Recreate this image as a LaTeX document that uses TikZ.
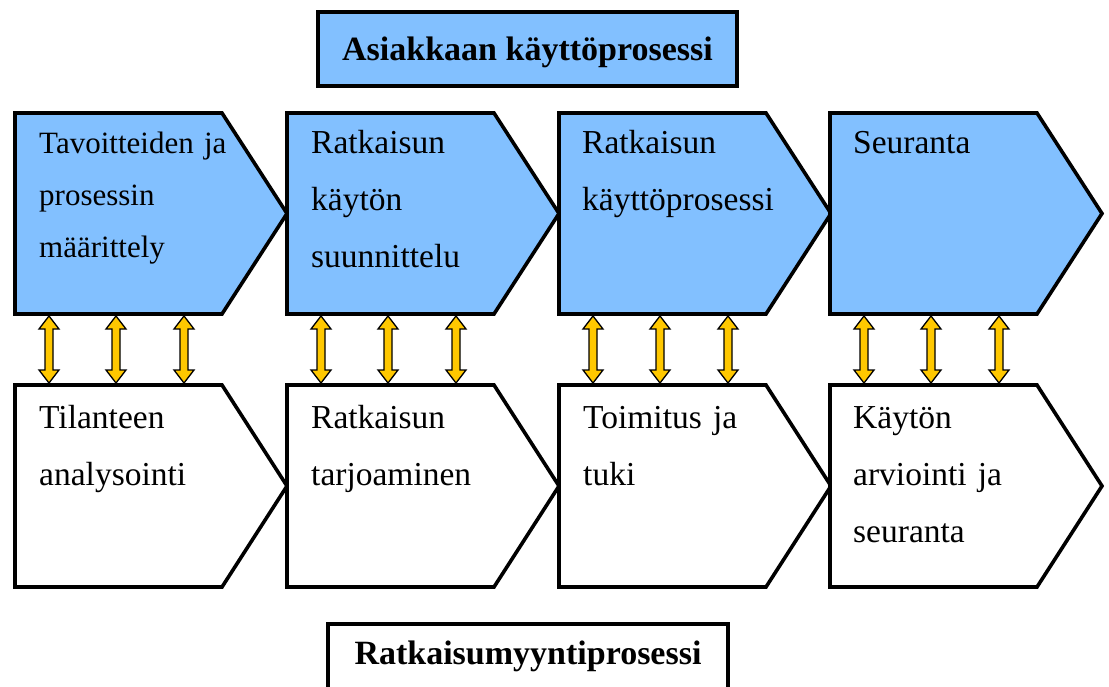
\documentclass[tikz,border=0pt]{standalone}
\usepackage{fontspec}
\setmainfont{Liberation Serif}
\usetikzlibrary{calc}
\definecolor{chevblue}{RGB}{130,192,255}
\definecolor{linkgold}{RGB}{255,200,0}

% body of a chevron: an invisible rectangle, the point is added when drawn
\newcommand\chevronbox[5]{% name, left, top, height, fill
  \node[body, minimum height=#4] (#1) at (#2,#3) {};
  \draw[chevronline, fill=#5] (#1.north west) -- (#1.north east)
    -- ($(#1.east)+(65,0)$) -- (#1.south east) -- (#1.south west) -- cycle;
}
% two-headed link between an upper and a lower chevron
\newcommand\linkarrow[2]{%
  \draw[link] let \p1=(#1), \p2=(#2) in
    (\x1,\y1) -- (\x1+10pt,\y1-13pt) -- (\x1+4pt,\y1-13pt)
    -- (\x2+4pt,\y2+13pt) -- (\x2+10pt,\y2+13pt) -- (\x2,\y2)
    -- (\x2-10pt,\y2+13pt) -- (\x2-4pt,\y2+13pt)
    -- (\x1-4pt,\y1-13pt) -- (\x1-10pt,\y1-13pt) -- cycle;
}

\begin{document}
\begin{tikzpicture}[x=1pt,y=-1pt,
  body/.style={draw=none, inner sep=0pt, outer sep=0pt,
    minimum width=207pt, anchor=north west},
  chevronline/.style={draw=black, line width=3.6pt, line join=miter},
  steptext/.style={anchor=base west, inner sep=0pt, text width=210pt,
    align=left, font=\fontsize{33.5}{57}\selectfont},
  link/.style={draw=black, fill=linkgold, line width=1.3pt, line join=miter},
  titlebox/.style={draw=black, line width=3.6pt, inner xsep=0pt,
    font=\bfseries\fontsize{34}{40}\selectfont}
]
\useasboundingbox (0,0) rectangle (1109,686);
\clip (0,0) rectangle (1109,686);

% heading of the customer process
\node[titlebox, fill=chevblue, minimum width=419pt, text height=24pt,
  text depth=0pt, inner ysep=25pt, anchor=north] (custtitle) at (527.5,10)
  {Asiakkaan käyttöprosessi};

% upper row: customer's process
\chevronbox{T1}{15}{113}{201pt}{chevblue}
\chevronbox{T2}{287}{113}{201pt}{chevblue}
\chevronbox{T3}{559}{113}{201pt}{chevblue}
\chevronbox{T4}{830}{113}{201pt}{chevblue}

\node[steptext, font=\fontsize{31}{52}\selectfont] (T1t) at ($(T1.north west)+(24,40)$)
  {Tavoitteiden ja\\prosessin\\määrittely};
\node[steptext] (T2t) at ($(T2.north west)+(24,40)$) {Ratkaisun\\käytön\\suunnittelu};
\node[steptext] (T3t) at ($(T3.north west)+(23,40)$) {Ratkaisun\\käyttöprosessi};
\node[steptext] (T4t) at ($(T4.north west)+(23,40)$) {Seuranta};

% lower row: solution selling process
\chevronbox{B1}{15}{385}{202pt}{white}
\chevronbox{B2}{287}{385}{202pt}{white}
\chevronbox{B3}{559}{385}{202pt}{white}
\chevronbox{B4}{830}{385}{202pt}{white}

\node[steptext] (B1t) at ($(B1.north west)+(24,43)$) {Tilanteen\\analysointi};
\node[steptext] (B2t) at ($(B2.north west)+(24,43)$) {Ratkaisun\\tarjoaminen};
\node[steptext] (B3t) at ($(B3.north west)+(24,43)$) {Toimitus ja\\tuki};
\node[steptext] (B4t) at ($(B4.north west)+(23,43)$) {Käytön\\arviointi ja\\seuranta};

% links between the two processes
\foreach \k in {1,2,3,4}{
  \foreach \dx in {34,101,169}{
    \linkarrow{$(T\k.south west)+(\dx,2)$}{$(B\k.north west)+(\dx,-2)$}
  }
}

% heading of the selling process (runs past the lower edge)
\node[titlebox, fill=white, minimum width=400pt, text height=24pt,
  text depth=30pt, inner ysep=17pt, anchor=north] (selltitle) at (528,622)
  {Ratkaisumyyntiprosessi};
\end{tikzpicture}
\end{document}
